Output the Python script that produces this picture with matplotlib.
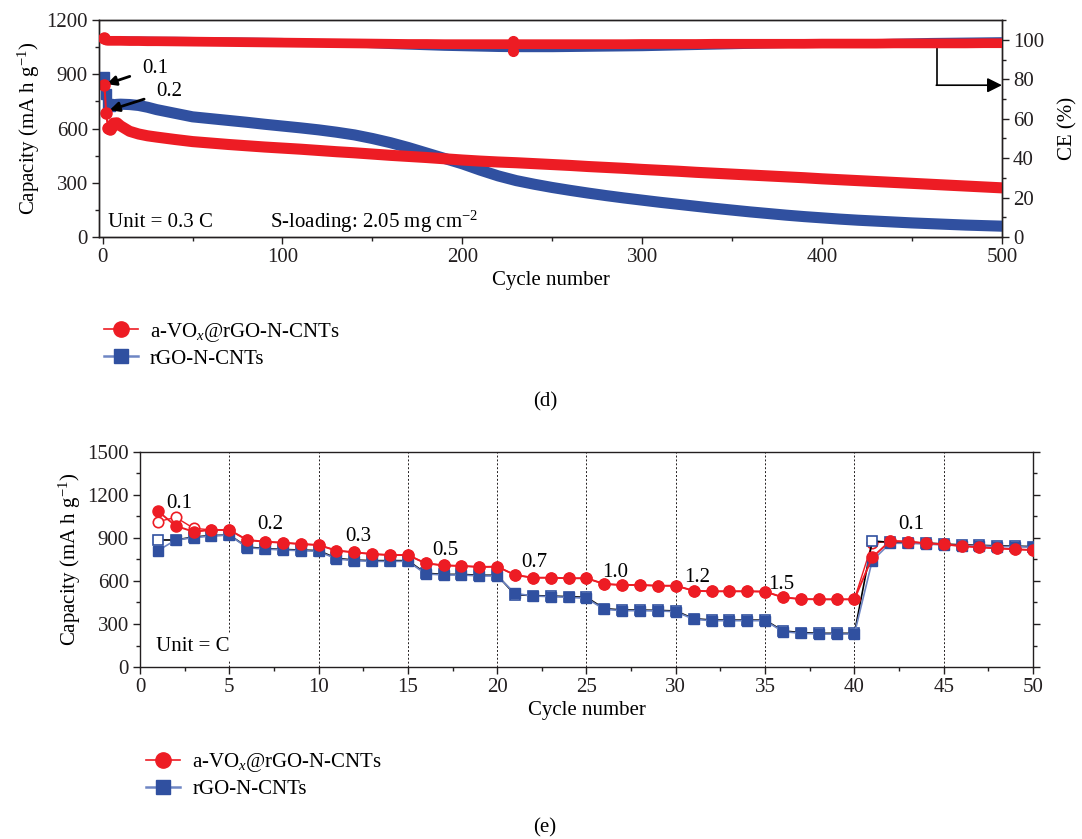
import matplotlib
matplotlib.use("Agg")
from matplotlib import pyplot as plt
from matplotlib.lines import Line2D
from matplotlib.ticker import MultipleLocator

plt.rcParams['font.family'] = ['Liberation Serif', 'DejaVu Serif']
plt.rcParams['mathtext.fontset'] = 'custom'
plt.rcParams['mathtext.rm'] = 'Liberation Serif'
plt.rcParams['mathtext.it'] = 'Liberation Serif:italic'
plt.rcParams['font.size'] = 15

RED = '#ED1C24'
BLUE = '#3050A0'
LBLUE = '#6E86C4'
DARK = '#231F20'

# ---- panel (d): long cycling at 0.3 C ----
cyc_d = [1, 2, 3, 4, 5, 6, 8, 10, 15, 20, 25, 30, 40, 50, 60, 70, 80, 90, 100,
         110, 120, 130, 140, 150, 160, 170, 180, 190, 200, 210, 220, 230, 240,
         250, 260, 270, 280, 290, 300, 310, 320, 330, 340, 350, 360, 370, 380,
         390, 400, 410, 420, 430, 440, 450, 460, 470, 480, 490, 500]
cap_vox = [840, 686, 603, 600, 615, 630, 632, 615, 585, 570, 560, 553, 540, 528,
           520, 512, 505, 498, 492, 486, 479, 472, 466, 459, 452, 446, 440, 433,
           426, 420, 415, 411, 406, 401, 396, 390, 385, 380, 374, 369, 364, 358,
           353, 348, 343, 338, 333, 328, 322, 317, 312, 307, 302, 297, 292, 287,
           282, 277, 272]
cap_rgo = [885, 790, 735, 725, 730, 732, 734, 735, 733, 728, 718, 705, 685, 665,
           655, 645, 635, 624, 614, 604, 593, 580, 565, 545, 522, 495, 465, 435,
           405, 370, 338, 312, 292, 274, 258, 243, 229, 216, 204, 192, 181, 170,
           159, 149, 139, 130, 121, 113, 106, 99, 93, 88, 83, 78, 74, 70, 66, 63, 60]
ce_vox = [101.0, 99.6, 99.5, 99.5, 99.5, 99.5, 99.5, 99.5, 99.4, 99.4, 99.3, 99.3,
          99.2, 99.1, 99.0, 98.9, 98.8, 98.7, 98.6, 98.5, 98.4, 98.3, 98.2, 98.1,
          98.0, 97.9, 97.9, 97.8, 97.8, 97.8, 97.8, 97.8, 97.8, 97.8, 97.8, 97.8,
          97.8, 97.8, 97.9, 97.9, 97.9, 97.9, 98.0, 98.0, 98.0, 98.0, 98.0, 98.0,
          98.1, 98.1, 98.1, 98.1, 98.2, 98.2, 98.2, 98.2, 98.2, 98.3, 98.3]
ce_rgo = [100.5, 100.3, 100.2, 100.1, 100.0, 100.0, 100.0, 100.0, 100.0, 99.9,
          99.9, 99.8, 99.8, 99.7, 99.6, 99.5, 99.4, 99.3, 99.2, 98.9, 98.6, 98.3,
          97.9, 97.5, 97.1, 96.8, 96.5, 96.2, 96.0, 95.8, 95.6, 95.5, 95.5, 95.5,
          95.6, 95.7, 95.8, 95.9, 96.0, 96.2, 96.4, 96.6, 96.8, 97.0, 97.2, 97.4,
          97.6, 97.8, 98.0, 98.2, 98.4, 98.6, 98.8, 99.0, 99.2, 99.3, 99.4, 99.5, 99.6]
ce_outlier_cyc = [228, 228]
ce_outlier_val = [99.2, 94.1]

# ---- panel (e): rate capability ----
cyc_e = list(range(1, 51))
dis_vox = [1088, 984, 944, 956, 956, 886, 874, 867, 858, 851,
           812, 800, 788, 781, 781, 723, 709, 705, 698, 700,
           642, 623, 623, 619, 619, 579, 572, 572, 567, 567,
           532, 528, 528, 528, 526, 486, 474, 472, 472, 472,
           765, 879, 875, 863, 856, 844, 835, 828, 821, 816]
chg_vox = [1014, 1044, 968, 956, 956, 886, 874, 867, 858, 851,
           812, 800, 788, 781, 781, 723, 709, 705, 698, 700,
           642, 623, 623, 619, 619, 579, 572, 572, 567, 567,
           532, 528, 528, 528, 526, 486, 474, 472, 472, 472,
           863, 879, 875, 863, 856, 844, 835, 828, 821, 816]
dis_rgo = [812, 886, 902, 914, 921, 832, 823, 816, 812, 807,
           753, 742, 737, 737, 737, 649, 642, 642, 635, 635,
           514, 495, 491, 486, 479, 402, 393, 393, 391, 386,
           333, 323, 323, 323, 323, 247, 235, 230, 230, 230,
           742, 863, 863, 858, 851, 847, 846, 840, 840, 835]
chg_rgo = [886, 886, 907, 917, 921, 837, 826, 820, 816, 812,
           758, 746, 742, 742, 742, 654, 646, 646, 640, 640,
           505, 498, 495, 491, 486, 407, 398, 397, 395, 391,
           337, 328, 327, 327, 327, 252, 240, 235, 235, 235,
           879, 870, 868, 865, 858, 852, 849, 845, 843, 840]
rate_labels = ['0.1', '0.2', '0.3', '0.5', '0.7', '1.0', '1.2', '1.5', '0.1']
rate_x = [2.2, 7.3, 12.2, 17.1, 22.1, 26.6, 31.2, 35.9, 43.2]
rate_y = [1140, 991, 907, 816, 726, 656, 621, 579, 991]
step_lines = [5, 10, 15, 20, 25, 30, 35, 40, 45]

fig = plt.figure(figsize=(10.82, 8.39), dpi=100)


def style_axis(ax):
    for sp in ax.spines.values():
        sp.set_color(DARK)
        sp.set_linewidth(1.0)
    ax.tick_params(which='both', direction='out', colors=DARK, top=False, pad=3)
    ax.tick_params(which='major', length=5, width=1.0)
    ax.tick_params(which='minor', length=3, width=1.0)


# panel d
ax = fig.add_axes([0.0915, 0.7175, 0.8345, 0.2585])
ax.plot(cyc_d[:4], cap_rgo[:4], color=BLUE, lw=1.5, marker='s', ms=7, zorder=3)
ax.plot(cyc_d[3:], cap_rgo[3:], color=BLUE, lw=8, solid_capstyle='round', zorder=3)
ax.plot(cyc_d[:5], cap_vox[:5], color=RED, lw=1.5, marker='o', ms=8, zorder=4)
ax.plot(cyc_d[4:], cap_vox[4:], color=RED, lw=8, solid_capstyle='round', zorder=4)
ax.set_xlim(-2, 500)
ax.set_ylim(0, 1200)
ax.xaxis.set_major_locator(MultipleLocator(100))
ax.xaxis.set_minor_locator(MultipleLocator(50))
ax.yaxis.set_major_locator(MultipleLocator(300))
ax.yaxis.set_minor_locator(MultipleLocator(150))
style_axis(ax)
ax.tick_params(which='both', right=False)
ax.set_xlabel('Cycle number', labelpad=3)
ax.set_ylabel('Capacity (mA h g$^{-1}$)', labelpad=3)
ax.text(3, 83, 'Unit = 0.3 C', ha='left', va='center')
ax.text(93, 83, 'S-loading: 2.05 mg cm$^{-2}$', ha='left', va='center')
ax.annotate('0.1', xy=(2.2, 846), xytext=(29, 935), ha='center', va='center',
            arrowprops=dict(arrowstyle='-|>', color='k', lw=2, mutation_scale=14,
                            shrinkA=7, shrinkB=0))
ax.annotate('0.2', xy=(3.9, 702), xytext=(37, 807), ha='center', va='center',
            arrowprops=dict(arrowstyle='-|>', color='k', lw=2, mutation_scale=14,
                            shrinkA=7, shrinkB=0))

ax2 = ax.twinx()
ax2.plot(cyc_d, ce_rgo, color=BLUE, lw=5, solid_capstyle='round', zorder=3)
ax2.plot(cyc_d, ce_vox, color=RED, lw=7, solid_capstyle='round', zorder=4)
ax2.plot(cyc_d[:1], ce_vox[:1], 'o', color=RED, ms=8, zorder=4)
ax2.plot(ce_outlier_cyc, ce_outlier_val, 'o', color=RED, ms=7, zorder=4)
ax2.set_ylim(0, 110)
ax2.yaxis.set_major_locator(MultipleLocator(20))
ax2.yaxis.set_minor_locator(MultipleLocator(10))
style_axis(ax2)
ax2.tick_params(which='both', left=False)
ax2.set_ylabel('CE (%)', labelpad=10)
ax2.plot([464, 464], [96.4, 77], color='k', lw=1.2)
ax2.annotate('', xy=(500, 77), xytext=(463.5, 77),
             arrowprops=dict(arrowstyle='-|>', color='k', lw=1.2, mutation_scale=22,
                             shrinkA=0, shrinkB=0), annotation_clip=False)

h_vox = Line2D([], [], color=RED, lw=1.2, marker='o', ms=11)
h_rgo = Line2D([], [], color=LBLUE, lw=1.8, marker='s', markerfacecolor=BLUE,
               markeredgecolor=BLUE, ms=10)
labels = ['a-VO$_x$@rGO-N-CNTs', 'rGO-N-CNTs']
fig.legend([h_vox, h_rgo], labels, loc='upper left', bbox_to_anchor=(0.079, 0.64),
           frameon=False, handlelength=1.6, handletextpad=0.6, labelspacing=0.25)
fig.text(0.5037, 0.521, '(d)', ha='center', va='center')

# panel e
ae = fig.add_axes([0.1294, 0.205, 0.8253, 0.2563])
for xv in step_lines:
    ae.axvline(xv, color=DARK, lw=0.7, ls=(0, (2, 2)), zorder=1)
ae.plot(cyc_e, chg_vox, color=RED, lw=1.0, marker='o', ms=7.5, mfc='white',
        mec=RED, mew=1.2, zorder=3)
ae.plot(cyc_e, chg_rgo, color='black', lw=1.2, marker='s', ms=6.5, mfc='white',
        mec=BLUE, mew=1.2, zorder=3)
ae.plot(cyc_e, dis_rgo, color=LBLUE, lw=1.2, marker='s', ms=6.5, mfc=BLUE,
        mec=BLUE, zorder=4)
ae.plot(cyc_e, dis_vox, color=RED, lw=1.4, marker='o', ms=8, mfc=RED, mec=RED,
        zorder=5)
for lab, xv, yv in zip(rate_labels, rate_x, rate_y):
    ae.text(xv, yv, lab, ha='center', va='center', zorder=6)
ae.text(0.9, 140, 'Unit = C', ha='left', va='center', zorder=6,
        bbox=dict(facecolor='white', edgecolor='none', pad=3))
ae.set_xlim(0, 50)
ae.set_ylim(0, 1500)
ae.xaxis.set_major_locator(MultipleLocator(5))
ae.xaxis.set_minor_locator(MultipleLocator(2.5))
ae.yaxis.set_major_locator(MultipleLocator(300))
ae.yaxis.set_minor_locator(MultipleLocator(150))
style_axis(ae)
ae.tick_params(which='both', right=True)
ae.set_xlabel('Cycle number', labelpad=3)
ae.set_ylabel('Capacity (mA h g$^{-1}$)', labelpad=3)

fig.legend([h_vox, h_rgo], labels, loc='upper left', bbox_to_anchor=(0.118, 0.127),
           frameon=False, handlelength=1.6, handletextpad=0.6, labelspacing=0.25)
fig.text(0.5037, 0.013, '(e)', ha='center', va='center')

fig.savefig('out.png', dpi=100)
